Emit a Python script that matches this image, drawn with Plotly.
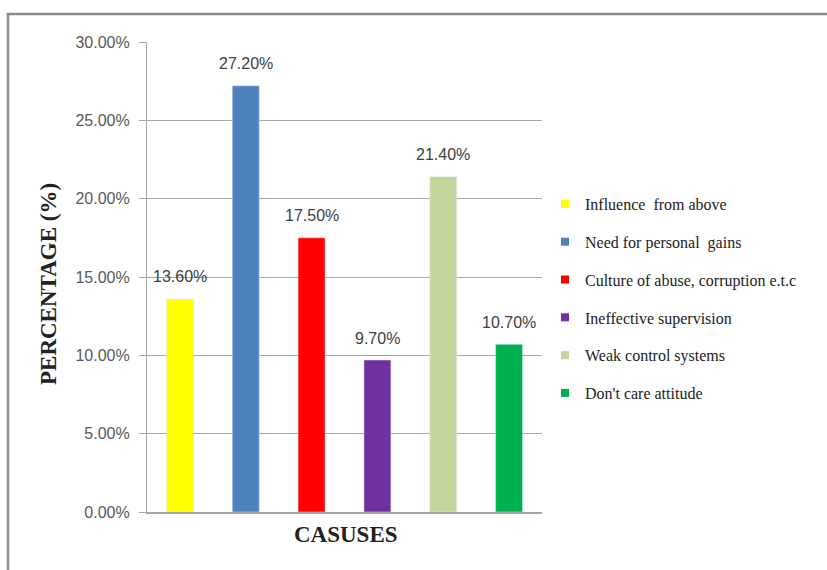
import plotly.graph_objects as go

# Causes and their share of responses (%)
causes = [
    "Influence  from above",
    "Need for personal  gains",
    "Culture of abuse, corruption e.t.c",
    "Ineffective supervision",
    "Weak control systems",
    "Don't care attitude",
]
percentages = [13.6, 27.2, 17.5, 9.7, 21.4, 10.7]
bar_colors = ["#FFFF00", "#4F81BD", "#FF0000", "#7030A0", "#C3D69B", "#00B050"]

W, H = 827, 570
L, R, T, B = 147, 285, 42, 58
pw, ph = W - L - R, H - T - B


def px_x(x):
    return (x - L) / pw


def px_y(y):
    return (H - B - y) / ph


fig = go.Figure()

for i, (name, val, col) in enumerate(zip(causes, percentages, bar_colors)):
    fig.add_trace(go.Bar(
        x=[i], y=[val], name=name, marker_color=col, width=0.41,
        showlegend=False, legendgroup=name, hoverinfo="name+y",
    ))
    # legend entry with a small square swatch
    fig.add_trace(go.Scatter(
        x=[None], y=[None], name=name, mode="markers", legendgroup=name,
        marker=dict(symbol="square", size=8, color=col),
    ))
    fig.add_annotation(
        x=i, y=val, text=f"{val:.2f}%", showarrow=False,
        yanchor="middle", yshift=22,
        font=dict(family="Liberation Sans", size=16, color="#404040"),
    )

# axis titles
fig.add_annotation(
    xref="paper", yref="paper", x=px_x(48), y=px_y(284), text="<b>PERCENTAGE (%)</b>",
    textangle=-90, showarrow=False, xanchor="center", yanchor="middle",
    font=dict(family="Liberation Serif", size=23, color="#222222"),
)
fig.add_annotation(
    xref="paper", yref="paper", x=px_x(346), y=px_y(534), text="<b>CASUSES</b>",
    showarrow=False, xanchor="center", yanchor="middle",
    font=dict(family="Liberation Serif", size=23, color="#222222"),
)

# outer chart frame (left and top edges)
fig.add_shape(
    type="rect", xref="paper", yref="paper",
    x0=px_x(8), x1=px_x(W + 10), y0=px_y(H + 10), y1=px_y(14),
    line=dict(color="#8A8A8A", width=2.5), fillcolor="rgba(0,0,0,0)", layer="below",
)

fig.update_layout(
    width=W, height=H,
    margin=dict(l=L, r=R, t=T, b=B),
    paper_bgcolor="white", plot_bgcolor="white",
    barmode="overlay",
    showlegend=True,
    legend=dict(
        x=px_x(545), y=px_y(187), xanchor="left", yanchor="top",
        font=dict(family="Liberation Serif", size=16, color="#222222"),
        tracegroupgap=14, itemwidth=30, bgcolor="rgba(0,0,0,0)",
    ),
    xaxis=dict(
        range=[-0.5, 5.5], showticklabels=False, ticks="",
        showline=True, linecolor="#A6A6A6", linewidth=1.5,
        showgrid=False, zeroline=False, fixedrange=True,
    ),
    yaxis=dict(
        range=[0, 30], dtick=5, tickformat=".2f", ticksuffix="%",
        ticks="outside", ticklen=7, tickcolor="#A6A6A6",
        showline=True, linecolor="#A6A6A6", linewidth=1.2,
        showgrid=True, gridcolor="#A6A6A6", gridwidth=1,
        zeroline=False, ticklabelstandoff=6,
        tickfont=dict(family="Liberation Sans", size=16, color="#595959"),
    ),
)

fig.write_html("out.html")
